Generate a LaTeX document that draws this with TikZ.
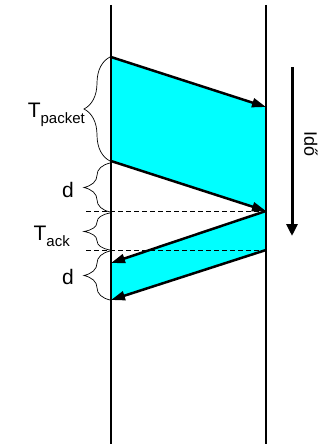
\documentclass[tikz,border=0pt]{standalone}
\usepackage{fontspec}
\setmainfont{Liberation Sans}
\usetikzlibrary{arrows.meta,decorations.pathreplacing}
\definecolor{pktcyan}{RGB}{0,255,255}
\newcommand{\lsub}[1]{\raisebox{-6pt}{\fontsize{15}{15}\selectfont #1}}
\begin{document}
\begin{tikzpicture}[x=1pt,y=-1pt,
  life/.style={line width=2pt},
  msg/.style={line width=2.5pt,-{Triangle[length=14pt,width=9pt]}},
  pkt/.style={fill=pktcyan,draw=none},
  guide/.style={line width=0.7pt,dash pattern=on 5pt off 3pt},
  brc/.style={decorate,decoration={brace,amplitude=26pt},line width=0.7pt},
  lbl/.style={font=\fontsize{21}{23}\selectfont,anchor=base east,inner sep=0pt},
  timearrow/.style={line width=3pt,-{Triangle[length=12pt,width=11pt]}}]
\useasboundingbox (0,0) rectangle (325,444);
% lifelines
\coordinate (Ltop) at (111,5);
\coordinate (Lbot) at (111,444);
\coordinate (Rtop) at (266,5);
\coordinate (Rbot) at (266,444);
% message points
\coordinate (p1) at (111,57);
\coordinate (p2) at (266,107);
\coordinate (p3) at (266,211);
\coordinate (p4) at (111,161);
\coordinate (a1) at (266,211);
\coordinate (a2) at (111,263);
\coordinate (a3) at (111,300);
\coordinate (a4) at (266,250);
% fills
\fill[pkt] (p1) -- (p2) -- (p3) -- (p4) -- cycle;
\fill[pkt] (a1) -- (a2) -- (a3) -- (a4) -- cycle;
% dashed guides
\coordinate (g1) at (86,211);
\coordinate (g2) at (86,250);
\draw[guide] (g1) -- (p3);
\draw[guide] (g2) -- (a4);
% lifelines
\draw[life] (Ltop) -- (Lbot);
\draw[life] (Rtop) -- (Rbot);
% messages
\draw[msg] (p1) -- (p2);
\draw[msg] (p4) -- (p3);
\draw[msg] (a1) -- (a2);
\draw[msg] (a4) -- (a3);
% braces
\coordinate (b1) at (110,161);
\coordinate (b2) at (110,57);
\coordinate (b3) at (110,212);
\coordinate (b4) at (110,163);
\coordinate (b5) at (110,250);
\coordinate (b6) at (110,213);
\coordinate (b7) at (110,300);
\coordinate (b8) at (110,251);
\draw[brc] (b1) -- (b2);
\draw[brc] (b3) -- (b4);
\draw[brc] (b5) -- (b6);
\draw[brc] (b7) -- (b8);
% labels
\node[lbl] (tpacket) at (85,117) {T\lsub{packet}};
\node[lbl] (d1) at (74,197) {d};
\node[lbl] (tack) at (70,240) {T\lsub{ack}};
\node[lbl] (d2) at (74,284) {d};
% time arrow
\coordinate (t1) at (292,67);
\coordinate (t2) at (292,236);
\draw[timearrow] (t1) -- (t2);
\node[font=\fontsize{18}{20}\selectfont,rotate=-90,inner sep=0pt] (ido) at (311,144) {Idő};
\end{tikzpicture}
\end{document}
